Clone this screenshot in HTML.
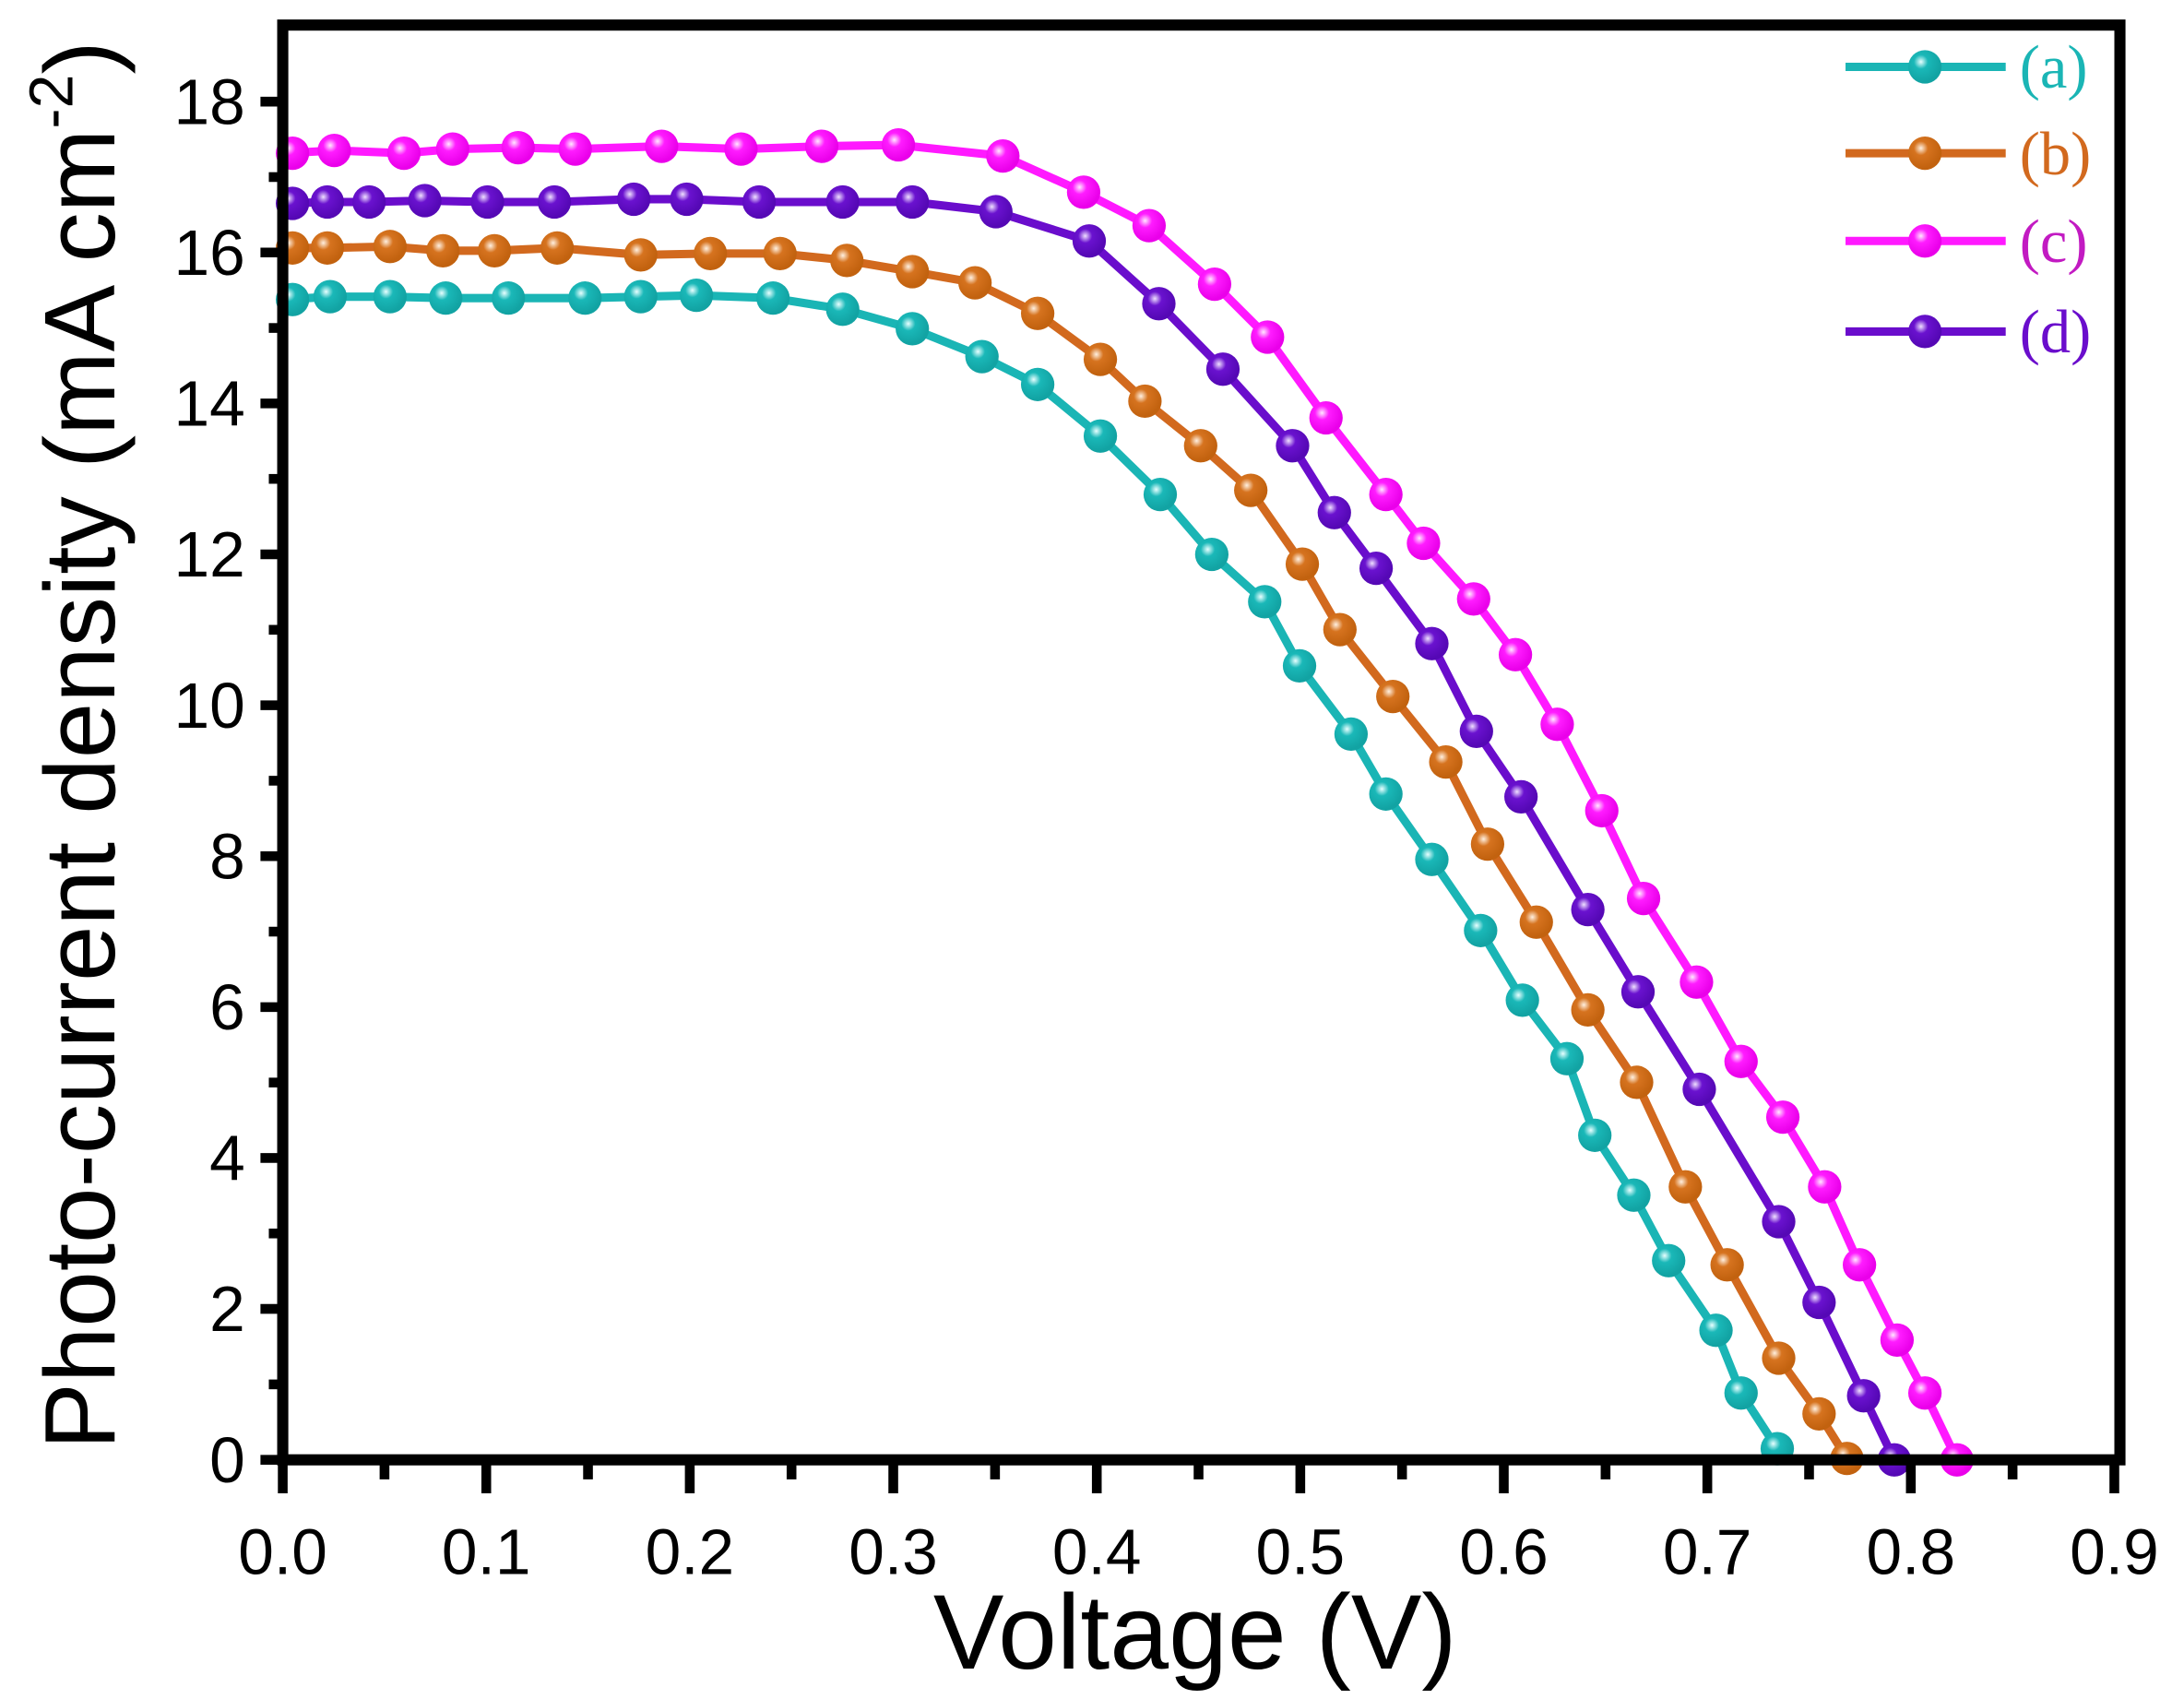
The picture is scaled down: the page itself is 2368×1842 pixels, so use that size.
<!DOCTYPE html>
<html><head><meta charset="utf-8"><style>html,body{margin:0;padding:0;background:#fff}svg{display:block}</style></head>
<body>
<svg width="2368" height="1842" viewBox="0 0 1568 1219.7" preserveAspectRatio="none" xmlns="http://www.w3.org/2000/svg">
<defs>
<radialGradient id="ga" cx="0.38" cy="0.35" r="0.6"><stop offset="0" stop-color="#e8ffff"/><stop offset="0.35" stop-color="#1ab8b8"/><stop offset="1" stop-color="#12a3a3"/></radialGradient>
<radialGradient id="gb" cx="0.38" cy="0.35" r="0.6"><stop offset="0" stop-color="#fff0e0"/><stop offset="0.35" stop-color="#d6731f"/><stop offset="1" stop-color="#c2620f"/></radialGradient>
<radialGradient id="gc" cx="0.38" cy="0.35" r="0.6"><stop offset="0" stop-color="#ffe8ff"/><stop offset="0.35" stop-color="#ff1cff"/><stop offset="1" stop-color="#ea00ea"/></radialGradient>
<radialGradient id="gd" cx="0.38" cy="0.35" r="0.6"><stop offset="0" stop-color="#efe0ff"/><stop offset="0.35" stop-color="#6a12cf"/><stop offset="1" stop-color="#5508b5"/></radialGradient>
</defs>
<rect width="1568" height="1220" fill="#fff"/>
<g fill="none" stroke-width="6" stroke-linejoin="round">
<polyline stroke="#1ab5b5" points="205,215 237,213 280,213 320,214 365,214 420,214 460,213 500,212 555,214 605,222 655,236 705,256 745,276 790,313 833,355 870,398 908,432 933,478 970,527 995,570 1028,617 1063,668 1093,718 1125,760 1145,815 1173,858 1198,905 1232,955 1250,1000 1276,1040"/>
<polyline stroke="#d2691e" points="205,178 235,178 280,177 318,180 355,180 400,178 460,183 510,182 560,182 608,187 655,195 700,203 745,225 790,258 822,288 862,320 898,352 935,405 962,452 1000,500 1038,547 1068,606 1103,662 1140,725 1175,777 1210,852 1240,908 1277,975 1306,1015 1326,1047"/>
<polyline stroke="#6a0dcc" points="205,146 235,145 265,145 305,144 350,145 398,145 455,143 493,143 545,145 605,145 655,145 715,152 782,173 832,218 878,265 928,320 958,368 988,408 1028,462 1060,525 1092,572 1140,653 1176,712 1220,782 1277,877 1306,935 1338,1002 1360,1048"/>
<polyline stroke="#ff19ff" points="205,110 240,108 290,110 325,107 372,106 413,107 475,105 532,107 590,105 645,104 720,112 778,138 825,162 872,204 910,242 952,300 995,355 1022,390 1058,430 1088,470 1118,520 1150,582 1180,645 1218,705 1250,762 1280,802 1310,852 1335,908 1362,962 1382,1000 1405,1048"/>
</g>
<g id="markers"></g>
<rect x="203" y="18" width="1319" height="1030" fill="none" stroke="#000" stroke-width="8"/>
<g stroke="#000" stroke-width="7" id="ticks"></g>
<g font-family="'Liberation Sans',sans-serif" font-size="46" fill="#000" id="labels"></g>
<text x="858" y="1198" text-anchor="middle" font-family="'Liberation Sans',sans-serif" font-size="76">Voltage (V)</text>
<text transform="translate(82,535) rotate(-90)" text-anchor="middle" font-family="'Liberation Sans',sans-serif" font-size="72">Photo-current density (mA cm<tspan dy="-30" font-size="44">-2</tspan><tspan dy="30">)</tspan></text>
<g stroke-width="6">
<line x1="1325" y1="48" x2="1440" y2="48" stroke="#1ab5b5"/><circle cx="1382" cy="48" r="12" fill="url(#ga)"/>
<line x1="1325" y1="110" x2="1440" y2="110" stroke="#d2691e"/><circle cx="1382" cy="110" r="12" fill="url(#gb)"/>
<line x1="1325" y1="173" x2="1440" y2="173" stroke="#ff19ff"/><circle cx="1382" cy="173" r="12" fill="url(#gc)"/>
<line x1="1325" y1="238" x2="1440" y2="238" stroke="#6a0dcc"/><circle cx="1382" cy="238" r="12" fill="url(#gd)"/>
</g>
<g font-family="'Liberation Serif',serif" font-size="44">
<text x="1450" y="63" fill="#1ab5b5">(a)</text>
<text x="1450" y="125" fill="#d2691e">(b)</text>
<text x="1450" y="188" fill="#c21ac2">(c)</text>
<text x="1450" y="253" fill="#6a0dcc">(d)</text>
</g>
<script>
(function(){
var ns="http://www.w3.org/2000/svg";
var m=document.getElementById("markers");
var ps=document.querySelectorAll("polyline");var gs=["ga","gb","gd","gc"];
ps.forEach(function(p,i){p.getAttribute("points").trim().split(/\s+/).forEach(function(s){var a=s.split(",");var c=document.createElementNS(ns,"circle");c.setAttribute("cx",Math.max(+a[0],210));c.setAttribute("cy",a[1]);c.setAttribute("r","12");c.setAttribute("fill","url(#"+gs[i]+")");m.appendChild(c);});});
var t=document.getElementById("ticks"),L=document.getElementById("labels");
function ln(x1,y1,x2,y2){var l=document.createElementNS(ns,"line");l.setAttribute("x1",x1);l.setAttribute("y1",y1);l.setAttribute("x2",x2);l.setAttribute("y2",y2);t.appendChild(l);}
function tx(x,y,s,a){var e=document.createElementNS(ns,"text");e.setAttribute("x",x);e.setAttribute("y",y);e.setAttribute("text-anchor",a);e.textContent=s;L.appendChild(e);}
for(var i=0;i<=18;i++){var x=203+i*0.05*1461.1;ln(x,1048,x,i%2?1062:1072);if(i%2==0)tx(x,1130,(i*0.05).toFixed(1),"middle");}
for(var j=0;j<=18;j++){var y=1048-j*54.17;ln(203,y,j%2?193:187,y);if(j%2==0)tx(176,y+16,String(j),"end");}
})();
</script>
</svg>
</body></html>
